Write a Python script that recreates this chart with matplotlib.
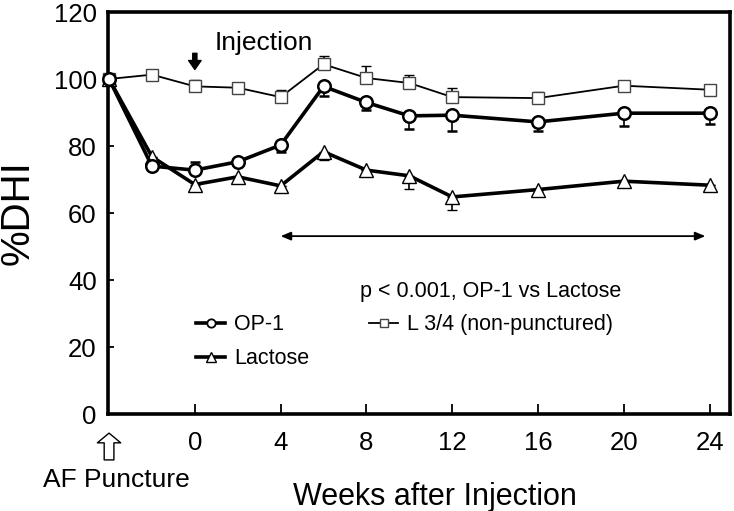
import matplotlib
matplotlib.use("Agg")
import matplotlib.pyplot as plt
from matplotlib.lines import Line2D

plt.rcParams["font.family"] = ["Liberation Sans", "DejaVu Sans"]

# weeks after injection (AF puncture drawn at -4)
weeks = [-4, -2, 0, 2, 4, 6, 8, 10, 12, 16, 20, 24]
op1 = [100, 74.0, 72.8, 75.3, 80.3, 97.8, 93.0, 89.0, 89.2, 87.2, 89.8, 89.8]
op1_err_lo = [0, 0, 0, 0, 2.0, 2.8, 2.3, 3.9, 4.8, 2.8, 3.7, 3.2]
op1_err_hi = [0, 0, 2.5, 0, 0, 0, 0, 0, 0, 0, 0, 0]
lactose = [100, 76.8, 68.5, 70.8, 68.1, 78.3, 72.8, 71.1, 64.8, 67.0, 69.5, 68.3]
lactose_err_lo = [0, 0, 1.5, 0, 0, 2.5, 0, 3.8, 4.0, 0, 1.5, 0]
l34 = [100, 101.3, 97.8, 97.4, 94.6, 104.4, 100.3, 98.8, 94.6, 94.3, 98.0, 96.8]
l34_err_hi = [0, 0, 2.0, 0, 2.2, 2.5, 3.5, 2.5, 2.7, 1.7, 0, 0]

xticks = [0, 4, 8, 12, 16, 20, 24]
yticks = [0, 20, 40, 60, 80, 100, 120]

fig = plt.figure(figsize=(7.34, 5.11), dpi=100)
ax = fig.add_axes([0.1471, 0.1898, 0.8475, 0.7867])

# L 3/4 (thin line, grey squares, upper error bars)
ax.errorbar(weeks, l34, yerr=[[0] * len(l34), l34_err_hi], color="black", lw=1.3,
            marker="s", ms=8, mfc="white", mec="#444444", mew=1.0,
            ecolor="black", elinewidth=1.2, capsize=3.5, capthick=1.2,
            clip_on=False, zorder=3)
# Lactose
ax.errorbar(weeks, lactose, yerr=[lactose_err_lo, [0] * len(lactose)], color="black",
            lw=2.6, marker="^", ms=10, mfc="white", mec="black", mew=1.0,
            ecolor="black", elinewidth=1.2, capsize=3.5, capthick=1.2,
            clip_on=False, zorder=4)
# OP-1
ax.errorbar(weeks, op1, yerr=[op1_err_lo, op1_err_hi], color="black", lw=2.6,
            marker="o", ms=9, mfc="white", mec="black", mew=1.8,
            ecolor="black", elinewidth=1.2, capsize=3.5, capthick=1.2,
            clip_on=False, zorder=5)

ax.set_xlim(-4.05, 24.95)
ax.set_ylim(0, 120)
ax.set_xticks(xticks)
ax.set_xticklabels([str(t) for t in xticks])
ax.set_yticks(yticks)
ax.tick_params(axis="both", direction="in", labelsize=18.5, width=1.3)
ax.tick_params(axis="x", length=7.5, pad=12)
ax.tick_params(axis="y", length=4.5, pad=8)
for s in ax.spines.values():
    s.set_linewidth(2.6)

ax.set_ylabel("%DHI", fontsize=29)
ax.yaxis.set_label_coords(-0.145, 0.5)
ax.yaxis.label.set_va("center")
ax.set_xlabel("Weeks after Injection", fontsize=22)
ax.xaxis.set_label_coords(0.526, -0.206)
ax.xaxis.label.set_va("center")

# injection marker
ax.annotate("", xy=(0, 102.0), xytext=(0, 108.5),
            arrowprops=dict(arrowstyle="simple,head_width=0.9,head_length=0.65,tail_width=0.3",
                            fc="black", ec="black", mutation_scale=10))
ax.text(0.9, 110.7, "Injection", fontsize=19, ha="left", va="center")

# treatment period
ax.annotate("", xy=(4, 53.1), xytext=(23.8, 53.1),
            arrowprops=dict(arrowstyle="<|-|>,head_length=0.6,head_width=0.25",
                            fc="black", ec="black", lw=1.3, shrinkA=0, shrinkB=0))
ax.text(13.8, 36.5, "p < 0.001, OP-1 vs Lactose", fontsize=15.5, ha="center", va="center")

# AF puncture marker below the axis
ax.annotate("", xy=(-4, -5.7), xytext=(-4, -13.7), annotation_clip=False,
            arrowprops=dict(arrowstyle="simple,head_width=1.2,head_length=0.5,tail_width=0.5",
                            fc="white", ec="black", lw=1.0, mutation_scale=14,
                            shrinkA=0, shrinkB=0))
ax.text(-3.64, -19.7, "AF Puncture", fontsize=19, ha="center", va="center", clip_on=False)

handles = [
    Line2D([], [], color="black", lw=2.6, marker="o", ms=6, mfc="white", mec="black", mew=1.3),
    Line2D([], [], color="black", lw=2.6, marker="^", ms=7, mfc="white", mec="black", mew=1.0),
    Line2D([], [], color="black", lw=1.3, marker="s", ms=6, mfc="white", mec="#444444", mew=1.0),
]
labels = ["OP-1", "Lactose", "L 3/4 (non-punctured)"]
ax.legend(handles, labels, ncol=2, loc="center left", bbox_to_anchor=(0.142, 0.18),
          frameon=False, fontsize=15.5, borderpad=0, borderaxespad=0,
          handlelength=1.35, handletextpad=0.4, columnspacing=2.8, labelspacing=0.6)

fig.savefig("out.png", dpi=100)
